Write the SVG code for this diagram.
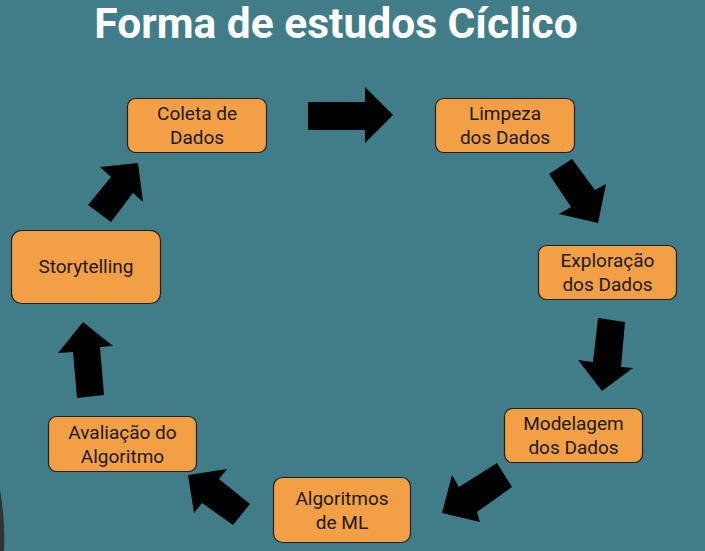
<svg xmlns="http://www.w3.org/2000/svg" width="705" height="551" viewBox="0 0 705 551">
<style>
.bg{fill:#407d88}
.box{fill:#f29f46;stroke:#1f1f1f;stroke-width:1.2}
.lbl{font-family:Roboto,"Liberation Sans",sans-serif;font-size:19px;fill:#1a1a1a;text-anchor:middle}
.title{font-family:Roboto,"Liberation Sans",sans-serif;font-size:42.5px;font-weight:bold;fill:#ffffff;text-anchor:middle}
.arr{fill:#000000}
</style>
<rect class="bg" x="0" y="0" width="705" height="551"/>
<path d="M0,490 C3,505 5,530 4,551 L0,551 Z" fill="#2f3336"/>
<text class="title" x="336" y="38">Forma de estudos Cíclico</text>
<g id="connectors">
<polygon class="arr" points="308,102 365,102 365,87 393,115 365,143 365,130 308,130"/>
<polygon class="arr" points="549,174 572,159 595,190 606,184 598,223 559,214 571,207"/>
<polygon class="arr" points="598,318 625,322 621,367 633,368 602,391 578,360 593,362"/>
<polygon class="arr" points="497,463 512,487 477,512 480,522 442,513 452,475 459,487"/>
<polygon class="arr" points="188,475 227,469 219,479 250,504 233,525 202,503 194,513"/>
<polygon class="arr" points="83,322 113,346 100,347 104,395 77,398 73,352 58,353"/>
<polygon class="arr" points="138,163 143,202 133,193 111,222 88,205 111,177 100,167"/>
</g>
<g id="coleta">
<rect class="box" x="127.5" y="98.5" width="139" height="54" rx="8"/>
<text class="lbl" x="197" y="120">Coleta de</text>
<text class="lbl" x="197" y="144">Dados</text>
</g>
<g id="limpeza">
<rect class="box" x="435.5" y="98.5" width="139" height="54" rx="8"/>
<text class="lbl" x="505" y="120">Limpeza</text>
<text class="lbl" x="505" y="144">dos Dados</text>
</g>
<g id="exploracao">
<rect class="box" x="538.5" y="245.5" width="138" height="54" rx="8"/>
<text class="lbl" x="607.5" y="267">Exploração</text>
<text class="lbl" x="607.5" y="291">dos Dados</text>
</g>
<g id="modelagem">
<rect class="box" x="504.5" y="408.5" width="138" height="54" rx="8"/>
<text class="lbl" x="573.5" y="430">Modelagem</text>
<text class="lbl" x="573.5" y="454">dos Dados</text>
</g>
<g id="algoritmos">
<rect class="box" x="273.5" y="477.5" width="137" height="65" rx="9"/>
<text class="lbl" x="342" y="505">Algoritmos</text>
<text class="lbl" x="342" y="529">de ML</text>
</g>
<g id="avaliacao">
<rect class="box" x="48.5" y="416.5" width="148" height="55" rx="8"/>
<text class="lbl" x="122.5" y="439">Avaliação do</text>
<text class="lbl" x="122.5" y="463">Algoritmo</text>
</g>
<g id="storytelling">
<rect class="box" x="11.5" y="230.5" width="149" height="73" rx="10"/>
<text class="lbl" x="86" y="273">Storytelling</text>
</g>
</svg>
